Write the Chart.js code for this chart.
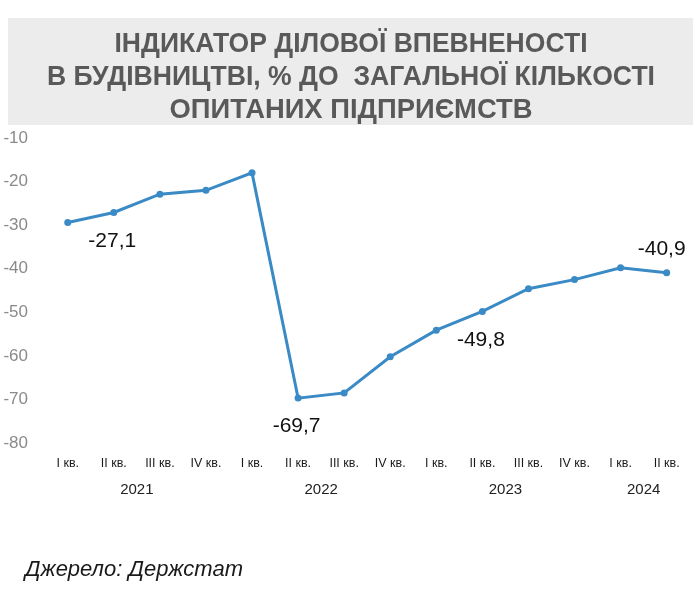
<!DOCTYPE html>
<html>
<head>
<meta charset="utf-8">
<script src="https://cdn.jsdelivr.net/npm/chart.js@4/dist/chart.umd.min.js"></script>
<style>
  html, body { margin: 0; padding: 0; background: #fff; }
  #wrap { width: 700px; height: 607px; }
</style>
</head>
<body>
<div id="wrap"><canvas id="chart"></canvas></div>
<script>
// Дані з графіка
const kvartaly = ["I кв.", "II кв.", "III кв.", "IV кв.", "I кв.", "II кв.", "III кв.", "IV кв.",
                  "I кв.", "II кв.", "III кв.", "IV кв.", "I кв.", "II кв."];
const znachennya = [-29.4, -27.1, -22.9, -22.0, -18.0, -69.7, -68.5, -60.2,
                    -54.1, -49.8, -44.6, -42.5, -39.8, -40.9];
const roky = ["2021", "2022", "2023", "2024"];
const rokyVid = [0, 4, 8, 12];   // перший квартал кожного року
const rokyDo = [3, 7, 11, 13];   // останній квартал
const pidpysani = [1, 5, 9, 13]; // точки з підписами значень
const osY = [-80, -10];

const titleLines = ["ІНДИКАТОР ДІЛОВОЇ ВПЕВНЕНОСТІ",
                    "В БУДІВНИЦТВІ, % ДО  ЗАГАЛЬНОЇ КІЛЬКОСТІ",
                    "ОПИТАНИХ ПІДПРИЄМСТВ"];
const dzherelo = "Джерело: Держстат";

const BLUE = '#3a8ac6';

// заголовок у сірій рамці + джерело + роки + підписи значень
const decor = {
  id: 'decor',
  beforeDraw(chart) {
    const c = chart.ctx;
    c.save();
    c.fillStyle = '#ececec';
    c.fillRect(8, 18, 685, 107);
    c.fillStyle = '#595959';
    c.font = 'bold 28px "Liberation Sans", Arial, sans-serif';
    c.textAlign = 'center';
    c.textBaseline = 'alphabetic';
    const widths = [473, 608, 363];
    const base = [52, 85, 118];
    titleLines.forEach((t, i) => {
      const w = c.measureText(t).width;
      c.save();
      c.translate(351, base[i]);
      c.scale(widths[i] / w, 1);
      c.fillText(t, 0, 0);
      c.restore();
    });
    c.restore();
  },
  afterDraw(chart) {
    const c = chart.ctx;
    const x = chart.scales.x;
    const meta = chart.getDatasetMeta(0);
    c.save();
    // роки
    c.fillStyle = '#222';
    c.font = '15px "Liberation Sans", Arial, sans-serif';
    c.textAlign = 'center';
    c.textBaseline = 'middle';
    roky.forEach((r, i) => {
      const cx = (x.getPixelForValue(rokyVid[i]) + x.getPixelForValue(rokyDo[i])) / 2;
      c.fillText(r, cx, 490);
    });
    // підписи значень
    c.fillStyle = '#111';
    c.font = '21px "Liberation Sans", Arial, sans-serif';
    pidpysani.forEach((idx, k) => {
      const p = meta.data[idx];
      const last = k === pidpysani.length - 1;
      const txt = znachennya[idx].toFixed(1).replace('.', ',');
      c.fillText(txt, p.x + (last ? -5 : -1.5), p.y + (last ? -23 : 28.5));
    });
    // джерело
    c.font = 'italic 22px "Liberation Sans", Arial, sans-serif';
    c.textAlign = 'left';
    c.textBaseline = 'alphabetic';
    c.fillStyle = '#1a1a1a';
    c.fillText(dzherelo, 25, 576);
    c.restore();
  }
};

new Chart(document.getElementById('chart'), {
  type: 'line',
  data: {
    labels: kvartaly,
    datasets: [{
      data: znachennya,
      borderColor: BLUE,
      backgroundColor: BLUE,
      borderWidth: 3,
      pointRadius: 3.5,
      pointBackgroundColor: BLUE,
      pointBorderWidth: 0,
      tension: 0
    }]
  },
  options: {
    responsive: true,
    maintainAspectRatio: false,
    animation: false,
    layout: { padding: { top: 138, right: 10.3, left: 0, bottom: 0 } },
    plugins: { legend: { display: false }, tooltip: { enabled: false } },
    scales: {
      x: {
        offset: true,
        grid: { display: false, drawTicks: false },
        border: { display: false },
        ticks: {
          color: '#1a1a1a',
          font: { family: '"Liberation Sans", Arial, sans-serif', size: 12.5 },
          padding: 13,
          maxRotation: 0,
          autoSkip: false
        },
        afterFit(s) { s.height = 164; }
      },
      y: {
        min: osY[0],
        max: osY[1],
        grid: { display: false, drawTicks: false },
        border: { display: false },
        ticks: {
          stepSize: 10,
          color: '#8a8a8a',
          font: { family: '"Liberation Sans", Arial, sans-serif', size: 17 },
          padding: 16.7
        },
        afterFit(s) { s.width = 44.7; }
      }
    }
  },
  plugins: [decor]
});
</script>
</body>
</html>
